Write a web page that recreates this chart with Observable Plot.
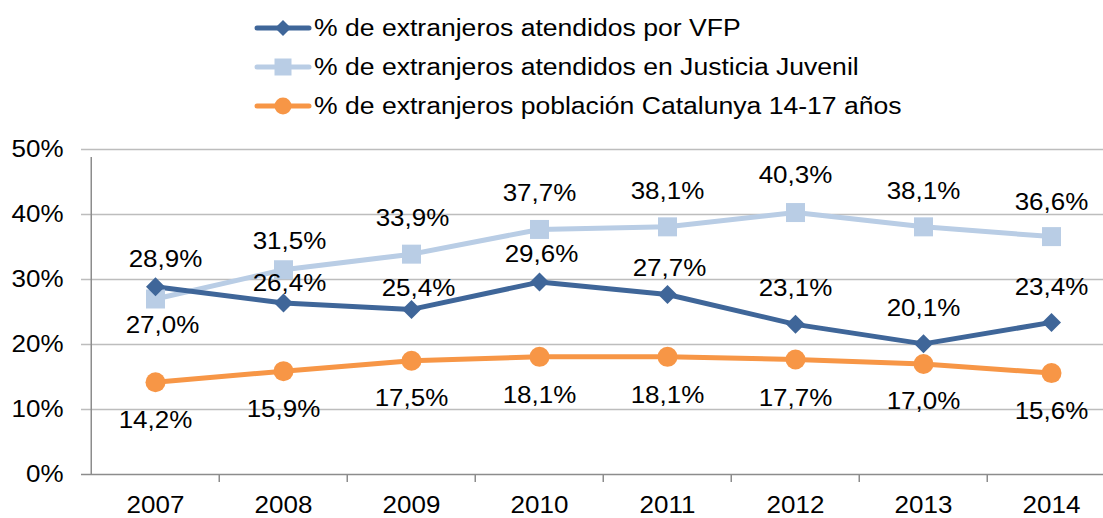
<!DOCTYPE html>
<html>
<head>
<meta charset="utf-8">
<script src="https://cdn.jsdelivr.net/npm/d3@7"></script>
<script src="https://cdn.jsdelivr.net/npm/@observablehq/plot@0.6"></script>
<style>
  html, body { margin: 0; padding: 0; background: #fff; }
  body { width: 1103px; height: 518px; overflow: hidden; font-family: "Liberation Sans", Arial, sans-serif; }
  #legend { position: relative; width: 1103px; height: 128px; }
  .row { position: absolute; left: 252px; height: 32px; display: flex; align-items: center; font-size: 23.5px; color: #000; white-space: nowrap; }
  .row svg { display: block; margin-right: 1px; }
  .row span { display: inline-block; transform: scaleX(1.13); transform-origin: left center; }
</style>
</head>
<body>
<div id="legend"></div>
<div id="chart"></div>
<script>
// ---- data ----
const years = ["2007", "2008", "2009", "2010", "2011", "2012", "2013", "2014"];
const vfp = [28.9, 26.4, 25.4, 29.6, 27.7, 23.1, 20.1, 23.4];
const justicia = [27.0, 31.5, 33.9, 37.7, 38.1, 40.3, 38.1, 36.6];
const poblacion = [14.2, 15.9, 17.5, 18.1, 18.1, 17.7, 17.0, 15.6];
const seriesNames = [
  "% de extranjeros atendidos por VFP",
  "% de extranjeros atendidos en Justicia Juvenil",
  "% de extranjeros población Catalunya 14-17 años"
];
const yTicks = [0, 10, 20, 30, 40, 50];

// ---- label placement (style, pixel offsets) ----
const vfpLabelDy = [-27, -19, -21, -27, -26, -36, -35, -35];
const vfpLabelDx = [10, 6, 7, 2, 2, 0, 0, 0];
const jjLabelDy = [27, -28, -36, -36, -35, -37, -35, -34];
const jjLabelDx = [7, 6, 1, 0, 0, 0, 0, 0];
const popLabelDy = [38, 38, 38, 39, 39, 39, 38, 39];
const popLabelDx = [0, 0, 0, 0, 0, 0, 0, 0];

const colors = ["#3f6699", "#b9cde5", "#f79646"];
const textStretch = 1.13;

const diamondSym = { draw(ctx, size) { const r = Math.sqrt(size / Math.PI); ctx.moveTo(0, -r); ctx.lineTo(r, 0); ctx.lineTo(0, r); ctx.lineTo(-r, 0); ctx.closePath(); } };
const squareSym = { draw(ctx, size) { const r = Math.sqrt(size / Math.PI); ctx.rect(-r, -r, 2 * r, 2 * r); } };
const circleSym = { draw(ctx, size) { const r = Math.sqrt(size / Math.PI); ctx.moveTo(r, 0); ctx.arc(0, 0, r, 0, 2 * Math.PI); } };

const fmt = v => v.toFixed(1).replace(".", ",") + "%";

function rows(values, dys, dxs, k) {
  return years.map((y, i) => ({ year: y, value: values[i], dy: dys[i], dx: dxs[i], k }));
}
const dVfp = rows(vfp, vfpLabelDy, vfpLabelDx, 0);
const dJj = rows(justicia, jjLabelDy, jjLabelDx, 1);
const dPop = rows(poblacion, popLabelDy, popLabelDx, 2);

// ---- legend ----
const legend = document.getElementById("legend");
const centers = [28, 67, 106];
const symbolsSvg = [
  c => `<polygon points="31,4 39,12 31,20 23,12" fill="${c}"/>`,
  c => `<rect x="22.5" y="3.5" width="17" height="17" fill="${c}"/>`,
  c => `<circle cx="31" cy="12" r="8.5" fill="${c}"/>`
];
seriesNames.forEach((name, i) => {
  const row = document.createElement("div");
  row.className = "row";
  row.style.top = (centers[i] - 16) + "px";
  row.innerHTML = `<svg width="61" height="24"><line x1="5" y1="12" x2="57" y2="12" stroke="${colors[i]}" stroke-width="5" stroke-linecap="round"/>${symbolsSvg[i](colors[i])}</svg><span>${name}</span>`;
  legend.appendChild(row);
});

// ---- chart ----
const x0 = 89, band = 128.5;
const half = band / 2;
const boundaries = years.map((y, i) => ({ year: y, first: i === 0 }));

function labelMarks(data) {
  return data.map(d => Plot.text([d], {
    x: "year", y: "value", text: v => fmt(v.value), dy: d.dy, dx: d.dx,
    fontSize: 23, fill: "#000"
  }));
}

const chart = Plot.plot({
  width: 1103,
  height: 390,
  marginTop: 21,
  marginBottom: 44,
  marginLeft: 89,
  marginRight: 0,
  style: { fontFamily: "Liberation Sans, Arial, sans-serif", background: "#fff", overflow: "visible" },
  x: { type: "band", domain: years, range: [x0, x0 + band * years.length], padding: 0, label: null },
  y: { domain: [0, 50], label: null },
  marks: [
    Plot.ruleY(yTicks.filter(t => t > 0), { y: d => d, stroke: "#bdbdbd", strokeWidth: 1.3, insetLeft: -8 }),
    Plot.ruleY([0], { stroke: "#8c8c8c", strokeWidth: 1.5, insetLeft: -8 }),
    Plot.ruleX(boundaries, { x: "year", dx: -half, y1: 0, y2: d => d.first ? 50 : 0, insetBottom: -8, stroke: "#8c8c8c", strokeWidth: 1.5 }),
    Plot.axisY({ ticks: yTicks, tickSize: 0, tickPadding: 26, tickFormat: d => d + "%", fontSize: 23, fill: "#000", label: null }),
    Plot.axisX({ tickSize: 0, tickPadding: 22, fontSize: 23, fill: "#000", label: null }),
    Plot.line(dJj, { x: "year", y: "value", stroke: colors[1], strokeWidth: 5 }),
    Plot.line(dVfp, { x: "year", y: "value", stroke: colors[0], strokeWidth: 5 }),
    Plot.line(dPop, { x: "year", y: "value", stroke: colors[2], strokeWidth: 5 }),
    Plot.dot(dJj, { x: "year", y: "value", fill: colors[1], r: 9.5, symbol: squareSym }),
    Plot.dot(dVfp, { x: "year", y: "value", fill: colors[0], r: 9.5, symbol: diamondSym }),
    Plot.dot(dPop, { x: "year", y: "value", fill: colors[2], r: 10, symbol: circleSym }),
    ...labelMarks(dVfp),
    ...labelMarks(dJj),
    ...labelMarks(dPop)
  ]
});

document.getElementById("chart").appendChild(chart);

// widen glyphs horizontally around each text's anchor to match the reference's wide lettering
chart.querySelectorAll("text").forEach(t => {
  const bb = t.getBBox();
  const anchor = getComputedStyle(t).textAnchor;
  const cx = anchor === "end" ? bb.x + bb.width : anchor === "start" ? bb.x : bb.x + bb.width / 2;
  const tr = t.getAttribute("transform") || "";
  t.setAttribute("transform", `${tr} translate(${cx},0) scale(${textStretch},1) translate(${-cx},0)`.trim());
});
</script>
</body>
</html>
